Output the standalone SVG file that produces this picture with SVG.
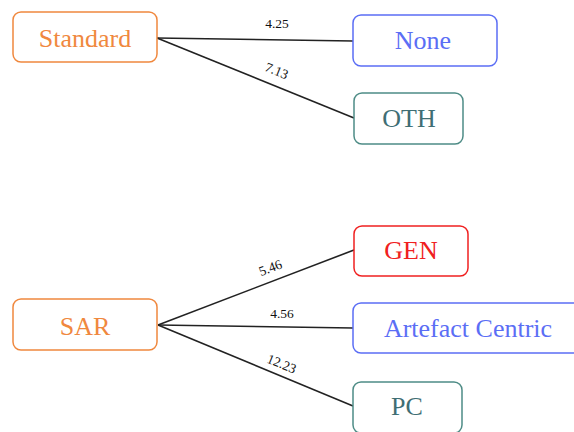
<svg xmlns="http://www.w3.org/2000/svg" width="574" height="432" viewBox="0 0 574 432">
<style>
.box{fill:#fff;stroke-width:1.5}
.t{font-family:"Liberation Serif","Times New Roman",serif;font-size:26px;text-anchor:middle;dominant-baseline:central}
.org rect{stroke:#F0883E}.org text{fill:#F0883E}
.blu rect{stroke:#5B6EF5}.blu text{fill:#5B6EF5}
.red rect{stroke:#F02020}.red text{fill:#F02020}
.tel rect{stroke:#4E8C86}.tel text{fill:#3F6E74}
.e{stroke:#222;stroke-width:1.6;fill:none}
.l{font-family:"Liberation Serif","Times New Roman",serif;font-size:13.5px;fill:#111;text-anchor:middle}
</style>
<rect width="574" height="432" fill="#fff"/>
<g id="connectors">
<path class="e" d="M157 38 L353 41"/>
<path class="e" d="M157 38 L354 118"/>
<path class="e" d="M158 325 L354 250"/>
<path class="e" d="M158 325 L353 328"/>
<path class="e" d="M158 325 L353 406"/>
<text class="l" x="277" y="28">4.25</text>
<text class="l" transform="translate(275,75) rotate(22)">7.13</text>
<text class="l" transform="translate(272,272) rotate(-21)">5.46</text>
<text class="l" x="282" y="318">4.56</text>
<text class="l" transform="translate(280,368) rotate(22)">12.23</text>
</g>
<g id="standard" class="org"><rect class="box" x="13" y="12" width="144" height="50" rx="8"/><text class="t" x="85" y="38">Standard</text></g>
<g id="none" class="blu"><rect class="box" x="353" y="15" width="144" height="51" rx="8"/><text class="t" x="423" y="40">None</text></g>
<g id="oth" class="tel"><rect class="box" x="354" y="93" width="109" height="51" rx="8"/><text class="t" x="409" y="118">OTH</text></g>
<g id="sar" class="org"><rect class="box" x="13" y="299" width="144" height="51" rx="8"/><text class="t" x="85" y="326">SAR</text></g>
<g id="gen" class="red"><rect class="box" x="354" y="226" width="114" height="50" rx="8"/><text class="t" x="411" y="250">GEN</text></g>
<g id="artefact" class="blu"><rect class="box" x="353" y="303" width="230" height="50" rx="8"/><text class="t" x="468" y="328">Artefact Centric</text></g>
<g id="pc" class="tel"><rect class="box" x="353" y="382" width="109" height="51" rx="8"/><text class="t" x="407" y="406">PC</text></g>
</svg>
